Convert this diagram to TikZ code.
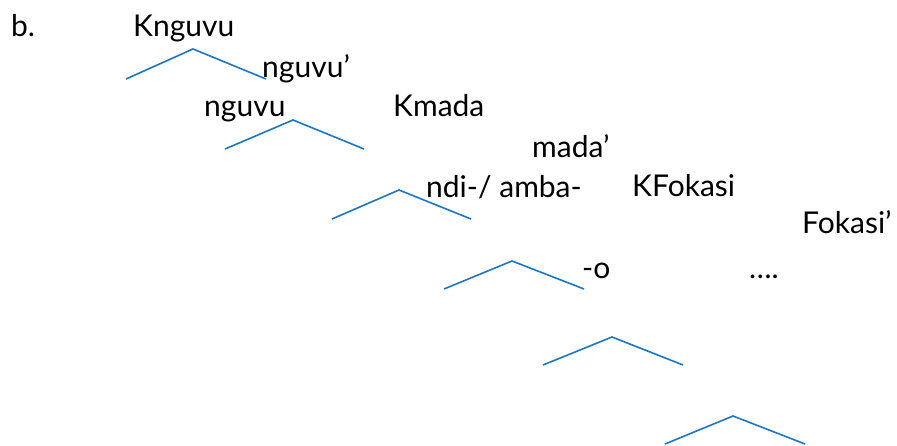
\documentclass[tikz,border=0pt]{standalone}
\usepackage{fontspec}
\setmainfont{Lato}
\usetikzlibrary{calc}
\definecolor{treeblue}{RGB}{26,118,198}
\tikzset{
  word/.style={anchor=base west, inner sep=0pt, font=\fontsize{30}{32}\selectfont},
  branch/.style={line width=1.6pt, color=treeblue},
}

\begin{document}
\begin{tikzpicture}[x=1pt, y=-1pt]
			%%%%% START %%%%%
			\useasboundingbox (0, 0) rectangle (897, 446);

			\node[word] (lbl) at (11, 37) {b.};
			\node[word] (knguvu) at (133, 37) {Knguvu};
			\node[word] (nguvubar) at (262, 78) {nguvu’};
			\node[word] (nguvu) at (204, 117) {nguvu};
			\node[word] (kmada) at (393, 117) {Kmada};
			\node[word] (madabar) at (532, 158) {mada’};
			\node[word] (ndi) at (426, 198) {ndi-/ amba-};
			\node[word] (kfokasi) at (632, 197) {KFokasi};
			\node[word] (fokasibar) at (802, 234) {Fokasi’};
			\node[word] (o) at (582, 279) {-o};
			\node[word] (dots) at (749, 279) {….};

			% the wedges
			\foreach \lx/\ly/\tx/\ty/\rx/\ry in {
				126/79/193/49/266/79,
				225/149/293/120/364/149,
				332/219/399/190/471/219,
				444/289/512/261/584/289,
				543/365/612/337/683/365,
				665/444/733/416/805/444}
			{
				\draw[branch] (\lx, \ly) -- (\tx, \ty) -- (\rx, \ry);
			}

			%%%%% END %%%%%
\end{tikzpicture}
\end{document}
